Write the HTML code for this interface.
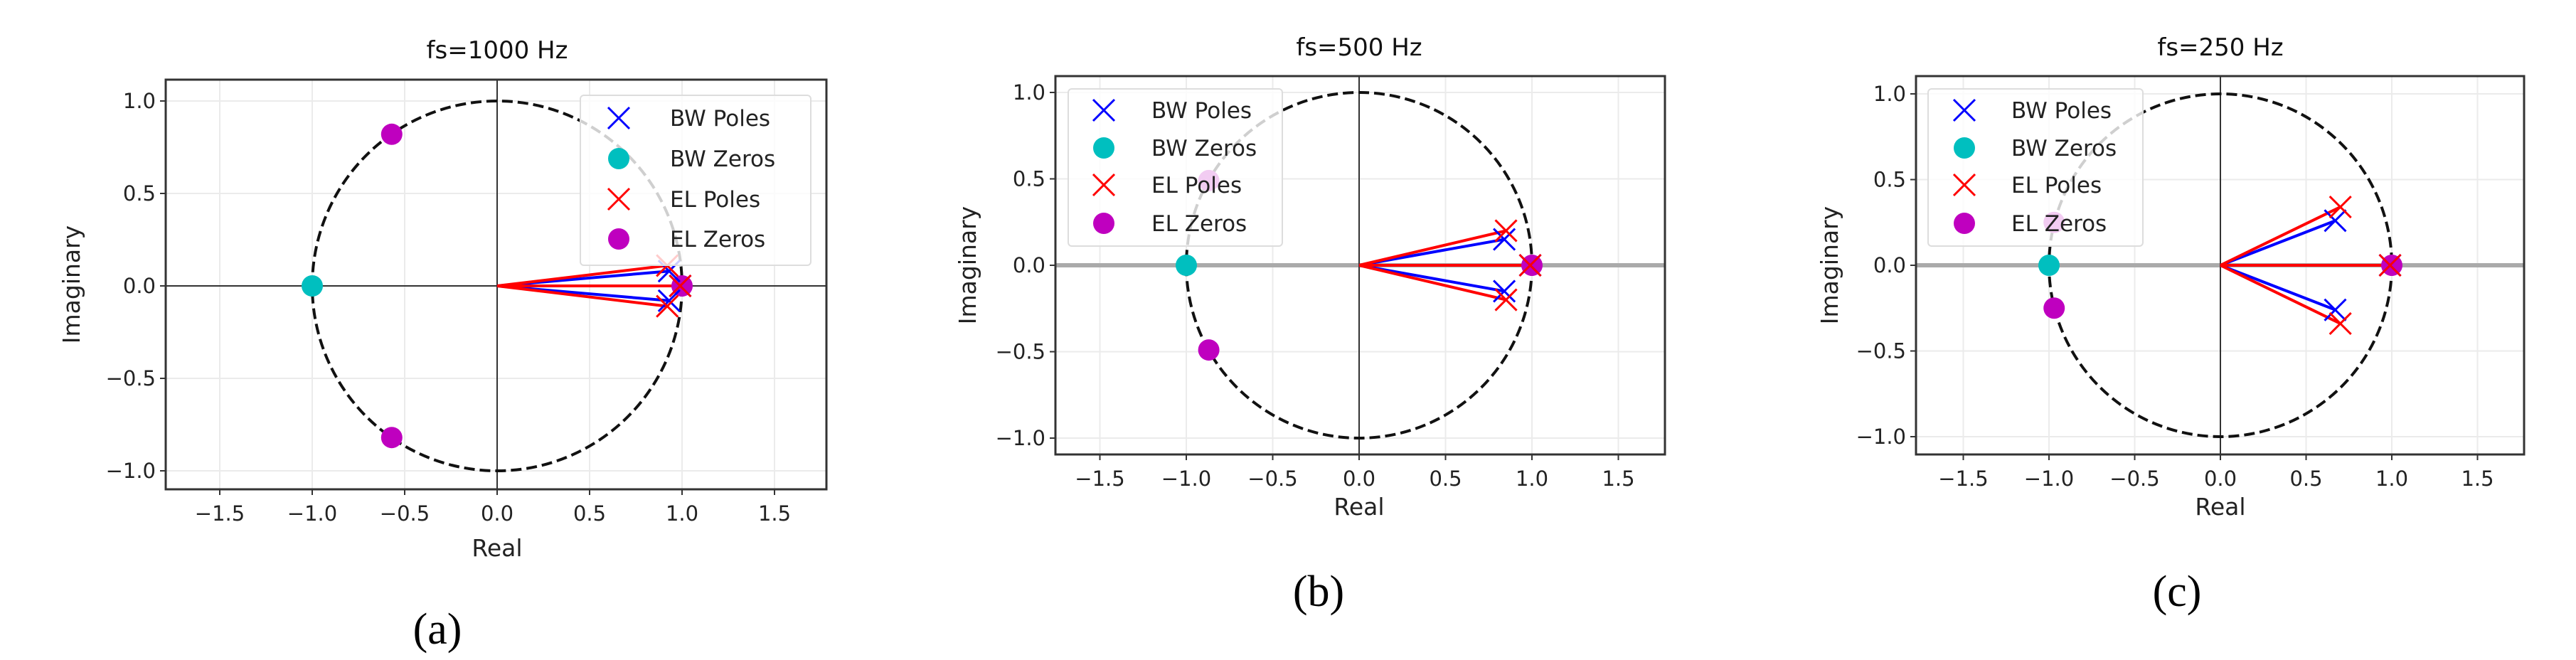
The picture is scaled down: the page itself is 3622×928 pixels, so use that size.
<!DOCTYPE html>
<html><head><meta charset="utf-8">
<style>
html,body{margin:0;padding:0;background:#fff;}
svg{display:block;}
text{font-family:"DejaVu Sans","Liberation Sans",sans-serif;}
</style></head>
<body>
<svg id="fig" width="3622" height="928" viewBox="0 0 3622 928" xmlns="http://www.w3.org/2000/svg"></svg>
<script>
// ---- data ----
const titles = ["fs=1000 Hz", "fs=500 Hz", "fs=250 Hz"];
const captions = ["(a)", "(b)", "(c)"];
const xTicks = [-1.5, -1.0, -0.5, 0.0, 0.5, 1.0, 1.5];
const yTicks = [1.0, 0.5, 0.0, -0.5, -1.0];
const legendLabels = ["BW Poles", "BW Zeros", "EL Poles", "EL Zeros"];
// poles/zeros per panel: [re, im]
const bwPolesA = [[0.93, 0.08], [0.93, -0.08], [0.99, 0]];
const elPolesA = [[0.92, 0.11], [0.92, -0.11], [0.99, 0]];
const bwZerosA = [[-1, 0]];
const elZerosA = [[-0.57, 0.82], [-0.57, -0.82], [1, 0]];
const bwPolesB = [[0.84, 0.15], [0.84, -0.15], [0.99, 0]];
const elPolesB = [[0.85, 0.2], [0.85, -0.2], [0.99, 0]];
const bwZerosB = [[-1, 0]];
const elZerosB = [[-0.87, 0.49], [-0.87, -0.49], [1, 0]];
const bwPolesC = [[0.67, 0.26], [0.67, -0.26], [0.99, 0]];
const elPolesC = [[0.7, 0.34], [0.7, -0.34], [0.99, 0]];
const bwZerosC = [[-1, 0]];
const elZerosC = [[-0.97, 0.25], [-0.97, -0.25], [1, 0]];

const NS = "http://www.w3.org/2000/svg";
const svg = document.getElementById("fig");
function mk(tag, attrs, parent) {
  const e = document.createElementNS(NS, tag);
  for (const k in attrs) e.setAttribute(k, attrs[k]);
  (parent || svg).appendChild(e);
  return e;
}
const panels = [
  {L:233, R:1162, T:112, B:688, x0:699, y0:402, s:260, leg:{x:816,y:134,w:324,h:239,mx:870,tx:942,rows:[166,223,280,336]}, zeroGray:false,
   bwP:bwPolesA, elP:elPolesA, bwZ:bwZerosA, elZ:elZerosA, titleY:82, realY:782, imgX:100, capX:615, capY:905},
  {L:1484, R:2341, T:107, B:639, x0:1911, y0:373, s:243, leg:{x:1502,y:125,w:301,h:221,mx:1552,tx:1619,rows:[155,208,260,314]}, zeroGray:true,
   bwP:bwPolesB, elP:elPolesB, bwZ:bwZerosB, elZ:elZerosB, titleY:78, realY:724, imgX:1360, capX:1854, capY:852},
  {L:2694, R:3549, T:107, B:639, x0:3122, y0:373, s:241, leg:{x:2711,y:125,w:302,h:221,mx:2762,tx:2828,rows:[155,208,260,314]}, zeroGray:true,
   bwP:bwPolesC, elP:elPolesC, bwZ:bwZerosC, elZ:elZerosC, titleY:78, realY:724, imgX:2572, capX:3061, capY:852}
];
function drawX(g, cx, cy, color, name) {
  const h = 15;
  const p = mk("path", {d:`M${cx-h},${cy-h}L${cx+h},${cy+h}M${cx-h},${cy+h}L${cx+h},${cy-h}`, stroke:color, "stroke-width":3, fill:"none"}, g);
  
  
}
function drawDot(g, cx, cy, color, name) {
  const c = mk("circle", {cx:cx, cy:cy, r:15, fill:color}, g);
  
  
}
panels.forEach((P, i) => {
  const g = mk("g", {});
  
  
  const X = v => P.x0 + v * P.s;
  const Y = v => P.y0 - v * P.s;
  mk("defs", {}, g).innerHTML = `<clipPath id="clip${i}"><rect x="${P.L}" y="${P.T}" width="${P.R-P.L}" height="${P.B-P.T}"/></clipPath>`;
  // grid
  xTicks.forEach(t => {
    const l = mk("line", {x1:X(t), x2:X(t), y1:P.T, y2:P.B, stroke:"#ebebeb", "stroke-width":2}, g);
    
    
  });
  yTicks.forEach(t => {
    const l = mk("line", {x1:P.L, x2:P.R, y1:Y(t), y2:Y(t), stroke:"#ebebeb", "stroke-width":2}, g);
    
    
  });
  // zero axes
  const hz = mk("line", {x1:P.L, x2:P.R, y1:Y(0), y2:Y(0), stroke:P.zeroGray ? "#aaaaaa" : "#333", "stroke-width":P.zeroGray ? 6 : 2}, g);
  
  
  const vz = mk("line", {x1:X(0), x2:X(0), y1:P.T, y2:P.B, stroke:"#333", "stroke-width":2}, g);
  
  
  const pg = mk("g", {"clip-path":`url(#clip${i})`}, g);
  // unit circle
  const uc = mk("circle", {cx:X(0), cy:Y(0), r:P.s, fill:"none", stroke:"#111", "stroke-width":4, "stroke-dasharray":"15 7"}, pg);
  
  
  // pole vectors
  P.bwP.forEach(p => {
    const l = mk("line", {x1:X(0), y1:Y(0), x2:X(p[0]), y2:Y(p[1]), stroke:"#0000ff", "stroke-width":4}, pg);
    
    
  });
  P.elP.forEach(p => {
    const l = mk("line", {x1:X(0), y1:Y(0), x2:X(p[0]), y2:Y(p[1]), stroke:"#ff0000", "stroke-width":4}, pg);
    
    
  });
  P.bwZ.forEach(p => drawDot(pg, X(p[0]), Y(p[1]), "#00bfbf", "bw-zero"));
  P.elZ.forEach(p => drawDot(pg, X(p[0]), Y(p[1]), "#bf00bf", "el-zero"));
  P.bwP.forEach(p => drawX(pg, X(p[0]), Y(p[1]), "#0000ff", "bw-pole"));
  P.elP.forEach(p => drawX(pg, X(p[0]), Y(p[1]), "#ff0000", "el-pole"));
  // frame
  const fr = mk("rect", {x:P.L, y:P.T, width:P.R-P.L, height:P.B-P.T, fill:"none", stroke:"#333", "stroke-width":3}, g);
  
  
  // ticks
  xTicks.forEach(t => {
    mk("line", {x1:X(t), x2:X(t), y1:P.B, y2:P.B+8, stroke:"#333", "stroke-width":2}, g);
    const tx = mk("text", {x:X(t), y:P.B+44, "font-size":29, fill:"#222", "text-anchor":"middle"}, g);
    tx.textContent = t.toFixed(1).replace("-", "\u2212");
    
    
  });
  yTicks.forEach(t => {
    mk("line", {x1:P.L-8, x2:P.L, y1:Y(t), y2:Y(t), stroke:"#333", "stroke-width":2}, g);
    const tx = mk("text", {x:P.L-14, y:Y(t)+10, "font-size":29, fill:"#222", "text-anchor":"end"}, g);
    tx.textContent = t.toFixed(1).replace("-", "\u2212");
    
    
  });
  // labels
  const tt = mk("text", {x:X(0), y:P.titleY, "font-size":34, fill:"#111", "text-anchor":"middle"}, g);
  tt.textContent = titles[i];
  
  
  const rl = mk("text", {x:X(0), y:P.realY, "font-size":33, fill:"#222", "text-anchor":"middle"}, g);
  rl.textContent = "Real";
  
  
  const il = mk("text", {x:P.imgX + 12, y:(P.T+P.B)/2, "font-size":33, fill:"#222", "text-anchor":"middle", transform:`rotate(-90 ${P.imgX+12} ${(P.T+P.B)/2})`}, g);
  il.textContent = "Imaginary";
  
  
  const cp = mk("text", {x:P.capX, y:P.capY, "font-size":62, fill:"#000", "text-anchor":"middle", style:'font-family:"Liberation Serif",serif'}, g);
  cp.textContent = captions[i];
  
  
  // legend
  const Lg = P.leg;
  const lg = mk("g", {}, g);
  
  
  mk("rect", {x:Lg.x, y:Lg.y, width:Lg.w, height:Lg.h, rx:5, fill:"rgba(255,255,255,0.8)", stroke:"#dddddd", "stroke-width":2}, lg);
  legendLabels.forEach((lab, k) => {
    const y = Lg.rows[k];
    if (k === 0) drawX(lg, Lg.mx, y, "#0000ff", "legend-marker-bw-poles");
    if (k === 1) drawDot(lg, Lg.mx, y, "#00bfbf", "legend-marker-bw-zeros");
    if (k === 2) drawX(lg, Lg.mx, y, "#ff0000", "legend-marker-el-poles");
    if (k === 3) drawDot(lg, Lg.mx, y, "#bf00bf", "legend-marker-el-zeros");
    const t = mk("text", {x:Lg.tx, y:y+11, "font-size":31, fill:"#222"}, lg);
    t.textContent = lab;
    
    
  });
});
</script>
</body></html>
